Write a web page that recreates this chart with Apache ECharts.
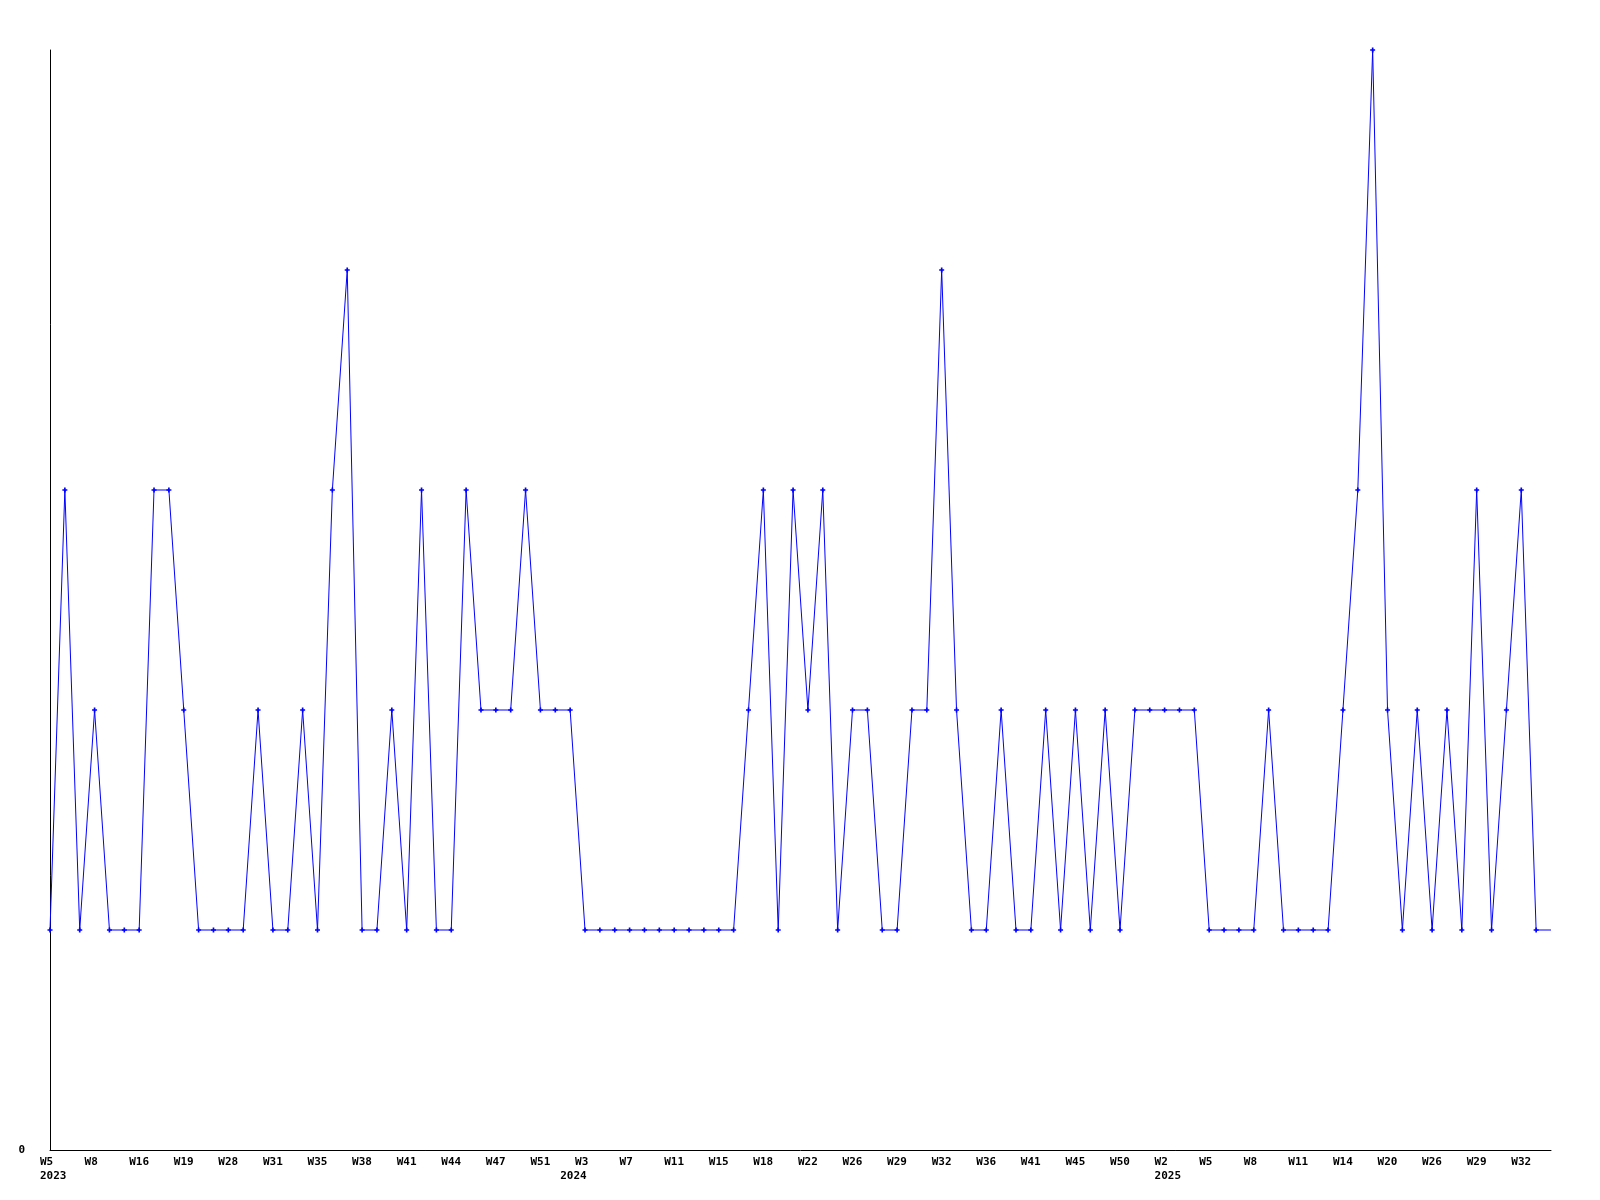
<!DOCTYPE html>
<html>
<head>
<meta charset="utf-8">
<script src="https://cdn.jsdelivr.net/npm/echarts@6/dist/echarts.min.js"></script>
<style>
html,body{margin:0;padding:0;background:#fff;}
#chart{width:1600px;height:1200px;}
</style>
</head>
<body>
<div id="chart"></div>
<script>
// Week tick labels shown on every third point
var tickLabels = ['W5','W8','W16','W19','W28','W31','W35','W38','W41','W44','W47','W51',
  'W3','W7','W11','W15','W18','W22','W26','W29','W32','W36','W41','W45','W50',
  'W2','W5','W8','W11','W14','W20','W26','W29','W32'];
// Year labels and the point index they sit under
var yearNames = ['2023', '2024', '2025'];
var yearIndex = [0, 35, 75];
// Series values (one per point)
var values = [1,3,1,2,1,1,1,3,3,2,1,1,1,1,2,1,1,2,1,3,4,1,1,2,1,3,1,1,3,2,2,2,3,2,2,2,
  1,1,1,1,1,1,1,1,1,1,1,
  2,3,1,3,2,3,1,2,2,1,1,2,2,4,2,1,1,2,1,1,2,1,2,1,2,1,2,2,2,2,2,1,1,1,1,2,1,1,1,1,2,3,5,2,1,2,1,2,1,3,1,2,3,1,1];

var categories = values.map(function(v, i){
  var s = (i % 3 === 0 && tickLabels[i/3] !== undefined) ? tickLabels[i/3] : '';
  var y = yearIndex.indexOf(i);
  if (y >= 0) s = s + '\n' + yearNames[y];
  return s;
});
var seriesData = values.map(function(v, i){
  return i === values.length - 1 ? {value: v, symbol: 'none'} : v;
});

var chart = echarts.init(document.getElementById('chart'));
var font = 'DejaVu Sans Mono';
chart.setOption({
  animation: false,
  backgroundColor: '#ffffff',
  grid: {left: 50, right: 49, top: 50, bottom: 50, containLabel: false, outerBoundsMode: 'none'},
  xAxis: {
    type: 'category',
    data: categories,
    boundaryGap: false,
    axisLine: {show: true, lineStyle: {color: '#000', width: 1}},
    axisTick: {show: false},
    splitLine: {show: false},
    axisLabel: {
      interval: 0,
      color: '#000',
      fontFamily: font,
      fontWeight: 'bold',
      fontSize: 11,
      lineHeight: 14,
      align: 'left',
      padding: [0, 0, 0, -10],
      margin: 5
    }
  },
  yAxis: {
    type: 'value',
    min: 0,
    max: 5,
    interval: 5,
    axisLine: {show: true, lineStyle: {color: '#000', width: 1}},
    axisTick: {show: false},
    splitLine: {show: false},
    axisLabel: {
      color: '#000',
      fontFamily: font,
      fontWeight: 'bold',
      fontSize: 11,
      margin: 25,
      formatter: function(v){ return v === 0 ? '0' : ''; }
    }
  },
  series: [{
    type: 'line',
    data: seriesData,
    symbol: 'path://M1,0H2V1H3V2H2V3H1V2H0V1H1Z',
    symbolSize: 5,
    showAllSymbol: true,
    lineStyle: {color: '#0000ff', width: 1},
    itemStyle: {color: '#0000ff'}
  }]
});
</script>
</body>
</html>
